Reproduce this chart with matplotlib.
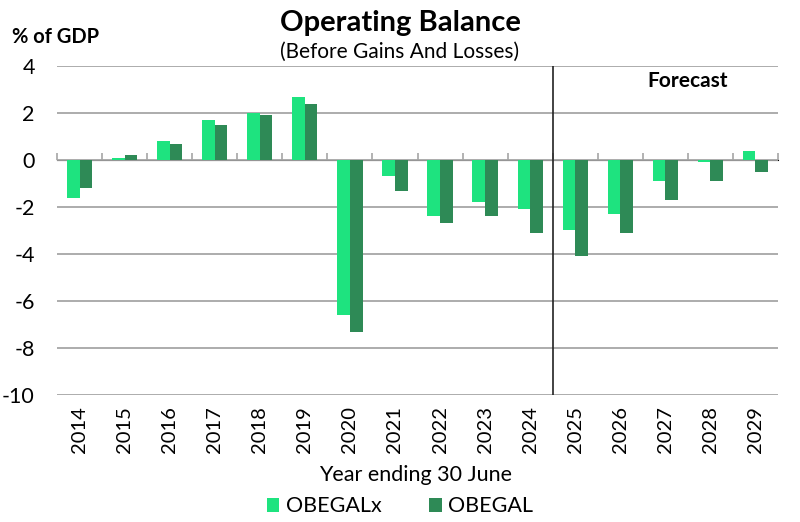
import matplotlib
matplotlib.use("Agg")
import matplotlib.pyplot as plt
import numpy as np

years = ["2014", "2015", "2016", "2017", "2018", "2019", "2020", "2021",
         "2022", "2023", "2024", "2025", "2026", "2027", "2028", "2029"]
obegalx = [-1.6, 0.1, 0.8, 1.7, 2.0, 2.7, -6.6, -0.7, -2.4, -1.8, -2.1,
           -3.0, -2.3, -0.9, -0.1, 0.4]
obegal = [-1.2, 0.2, 0.7, 1.5, 1.9, 2.4, -7.3, -1.3, -2.7, -2.4, -3.1,
          -4.1, -3.1, -1.7, -0.9, -0.5]
yticks = [4, 2, 0, -2, -4, -6, -8, -10]
forecast_start = "2025"

plt.rcParams['font.family'] = ['Lato', 'DejaVu Sans']
plt.rcParams['axes.unicode_minus'] = False

light = "#1ee37f"
dark = "#2e8a56"
grid_c = "#a6a6a6"

fig = plt.figure(figsize=(8, 5.22), dpi=100)
ax = fig.add_axes([0.07125, 0.2433, 0.90125, 0.6303])

x = np.arange(len(years))
w = 0.28
ax.bar(x - w / 2, obegalx, w, color=light, label="OBEGALx", zorder=3)
ax.bar(x + w / 2, obegal, w, color=dark, label="OBEGAL", zorder=3)

ax.set_xlim(-0.5, len(years) - 0.5)
ax.set_ylim(-10, 4)
ax.set_yticks(yticks)
ax.set_yticklabels([str(v) for v in yticks], fontsize=15.5)
ax.tick_params(axis='y', length=0, pad=16)
ax.yaxis.grid(True, color=grid_c, linewidth=1.3, zorder=0)
for s in ax.spines.values():
    s.set_visible(False)

ax.set_xticks(x)
ax.set_xticklabels(years, rotation=90, fontsize=14.5)
ax.tick_params(axis='x', length=0, pad=8)

# zero axis with ticks at category boundaries
sec = ax.secondary_xaxis(10 / 14)
sec.set_xticks(np.arange(-0.5, len(years) + 0.5, 1))
sec.set_xticklabels([])
sec.tick_params(axis='x', direction='out', length=5, color=grid_c, width=1.2)
sec.spines['bottom'].set_color(grid_c)
sec.spines['bottom'].set_linewidth(1.3)

fi = years.index(forecast_start) - 0.5
ax.axvline(fi, color="#222222", linewidth=1.2, zorder=4)
ax.text(13.5, 3.35, "Forecast", ha='center', va='center', fontsize=15,
        fontweight='bold')

fig.text(0.5, 0.955, "Operating Balance", ha='center', va='center',
         fontsize=21, fontweight='bold')
fig.text(0.5, 0.90, "(Before Gains And Losses)", ha='center', va='center',
         fontsize=15)
fig.text(0.015, 0.93, "% of GDP", ha='left', va='center', fontsize=14.5,
         fontweight='bold')

fig.text(0.52, 0.09, "Year ending 30 June", ha='center', va='center',
         fontsize=15.5)
fig.legend(loc='center', bbox_to_anchor=(0.5, 0.03), ncol=2, frameon=False,
           fontsize=15.5, handlelength=0.6, handleheight=0.6,
           handletextpad=0.3, columnspacing=2.2)

fig.savefig("out.png", dpi=100)
